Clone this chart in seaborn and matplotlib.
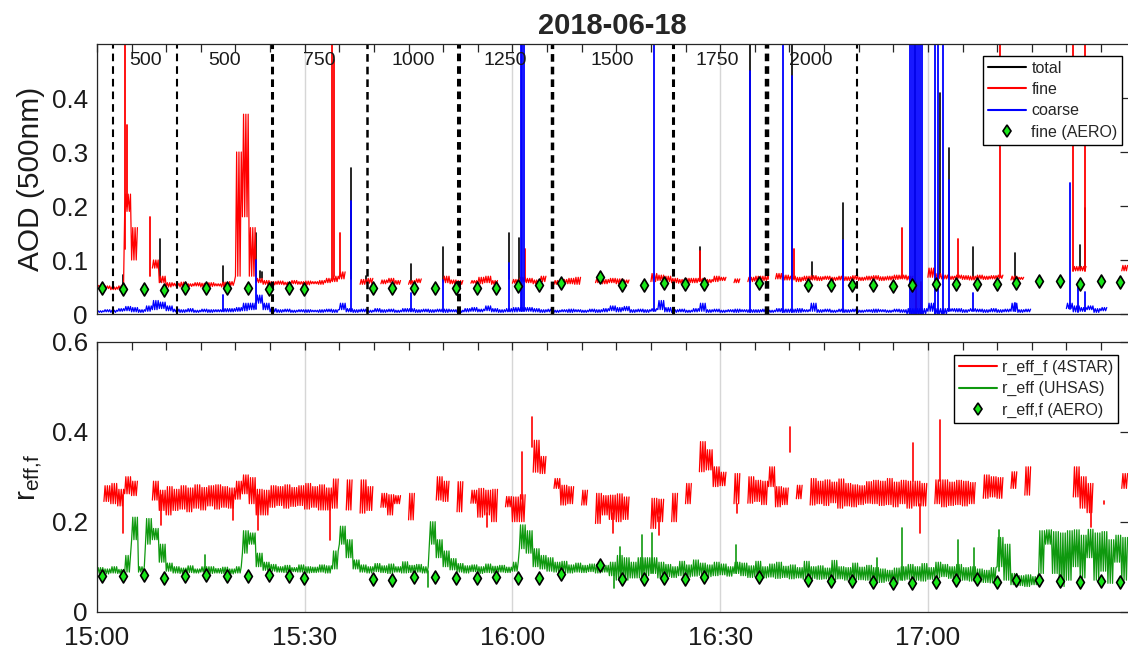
import numpy as np
import pandas as pd
import matplotlib
matplotlib.use("Agg")
import matplotlib.pyplot as plt
import seaborn as sns
from matplotlib.ticker import MultipleLocator, FuncFormatter, FixedLocator
from matplotlib.lines import Line2D

sns.set_theme(style="white")
plt.rcParams['font.family'] = ['Liberation Sans', 'DejaVu Sans']
plt.rcParams['lines.scale_dashes'] = False
plt.rcParams['mathtext.fontset'] = 'custom'
plt.rcParams['mathtext.rm'] = 'Liberation Sans'
plt.rcParams['mathtext.it'] = 'Liberation Sans'

N = None
# ===== data: time = minutes after 15:00 =====
# per-minute low / high envelope of each 1 Hz trace, plus isolated spikes (time, low, high)

# --- AOD fine (4STAR) ---
fine_lo = [
 .050, .047, .045, .046, .190, .100, N,    N,    .085, .058,
 .050, .052, .050, .051, .052, .050, .051, .052, .050, .053,
 .070, .180, .070, .058, .055, .054, .055, .054, .056, .055,
 .054, .056, .055, .058, .060, .065, N,    N,    .055, .057,
 N,    .056, .058, .055, N,    .055, .058, N,    N,    N,
 .058, .056, .055, N,    .057, .056, .058, .055, N,    N,
 .057, .060, .058, .056, .060, N,    .055, .057, .056, .055,
 N,    N,    .058, .056, .058, .056, .057, N,    N,    N,
 .060, .062, .060, .058, .057, .058, .058, .060, .058, .060,
 .062, N,    .058, N,    .060, .061, .062, N,    .065, .063,
 .063, .060, .062, .063, .062, .064, .062, .063, .062, .064,
 .062, .063, .064, .062, .063, .064, .065, .063, N,    N,
 .068, .066, .065, .064, .066, .064, .063, .065, .064, .065,
 .066, N,    .063, .064, N,    N,    N,    N,    N,    N,
 N,    .080, .080, N,    N,    N,    N,    N,    .080,
]
fine_hi = [
 .053, .052, .050, .052, .222, .160, N,    N,    .100, .070,
 .058, .057, .059, .056, .058, .057, .058, .056, .059, .060,
 .300, .370, .160, .066, .062, .060, .061, .059, .062, .060,
 .061, .060, .062, .066, .070, .078, N,    N,    .064, .066,
 N,    .063, .066, .062, N,    .062, .065, N,    N,    N,
 .070, .063, .062, N,    .062, .068, .070, .062, N,    N,
 .064, .068, .066, .063, .070, N,    .062, .064, .066, .068,
 N,    N,    .065, .064, .066, .065, .063, N,    N,    N,
 .075, .072, .070, .066, .064, .066, .066, .066, .064, .070,
 .068, N,    .065, N,    .068, .070, .070, N,    .075, .072,
 .070, .068, .070, .071, .069, .070, .068, .070, .069, .071,
 .068, .070, .071, .069, .070, .072, .072, .070, N,    N,
 .085, .075, .072, .070, .072, .071, .070, .072, .070, .071,
 .072, N,    .070, .068, N,    N,    N,    N,    N,    N,
 N,    .088, .088, N,    N,    N,    N,    N,    .090,
]
fine_spk_t = [4.0, 4.3, 7.65, 34.0, 34.3, 35.1, 61.8, 87.1, 96.9, 100.6, 116.3,
              118.3, 119.0, 124.4, 130.4, 140.9, 142.7]
fine_spk_lo = [.12, .20, .07, .065, .07, .07, .062, .062, .065, .066, .066,
               .000, .000, .068, .068, .08, .08]
fine_spk_hi = [.60, .35, .18, .60, .47, .15, .12, .117, .082, .12, .159,
               .06, .06, .138, .60, .80, .80]

# --- AOD coarse (4STAR) ---
coarse_lo = [
 .003, .004, .003, .005, .006, .004, .003, .005, .008, .010,
 .006, .004, .003, .004, .003, .004, .003, .004, .004, .004,
 .005, .006, .008, .020, .008, .004, .003, .004, .003, .004,
 .003, .004, .003, .004, .003, .008, .004, .003, .004, .003,
 .004, .003, .004, .003, .004, .004, .003, .004, .003, .004,
 .003, .004, .003, .004, .005, .004, .006, .004, .003, .004,
 .004, .005, .005, .004, .003, .004, .003, .004, .003, .004,
 .003, .004, .003, .004, .006, .004, .006, .003, .004, .003,
 .005, .008, .004, .003, .004, .003, .004, .005, .003, .004,
 .003, .004, .003, .004, .003, .003, .004, .003, .004, .003,
 .003, .003, .004, .005, .003, .004, .003, .004, .003, .004,
 .003, .004, .003, .004, .003, .004, .003, .000, .000, .000,
 .005, .000, .000, .005, .004, .003, .005, .004, .003, .004,
 .003, .004, .005, .003, .004, N,    N,    N,    N,    N,
 .010, .004, .005, .008, .003, .006, N,    N,    N,
]
coarse_hi = [
 .006, .008, .007, .010, .014, .012, .008, .015, .025, .022,
 .015, .009, .008, .010, .007, .009, .008, .008, .010, .010,
 .012, .020, .020, .035, .020, .010, .008, .009, .007, .008,
 .008, .007, .008, .009, .008, .020, .010, .008, .009, .007,
 .010, .008, .009, .007, .010, .010, .008, .009, .008, .009,
 .009, .008, .007, .010, .012, .009, .015, .010, .008, .010,
 .012, .012, .012, .010, .008, .009, .007, .008, .009, .008,
 .007, .009, .008, .010, .015, .012, .014, .008, .009, .008,
 .010, .025, .012, .008, .009, .007, .010, .020, .008, .009,
 .007, .008, .009, .008, .008, .008, .009, .007, .010, .009,
 .009, .010, .008, .020, .008, .009, .007, .009, .008, .009,
 .007, .008, .009, .008, .007, .009, .008, .010, .010, .010,
 .020, .010, .010, .010, .010, .008, .010, .009, .008, .010,
 .008, .009, .020, .008, .009, N,    N,    N,    N,    N,
 .020, .015, .012, .015, .010, .012, N,    N,    N,
]
coarse_spk_t = [18.2, 22.9, 36.7, 45.4, 50.0, 59.5, 61.2, 61.4, 61.6, 80.5, 94.3,
                99.1, 100.4, 107.8, 117.4, 117.7, 118.0, 118.3, 118.6, 118.9, 119.2,
                121.0, 121.5, 122.2, 123.0, 126.5, 132.6, 140.5, 141.7, 142.7]
coarse_spk_lo = [.005, .010, .005, .005, .005, .005, .005, .005, .005, .005, .003,
                 .003, .003, .004, .000, .000, .000, .000, .000, .000, .000,
                 .000, .000, .000, .005, .005, .005, .010, .004, .005]
coarse_spk_hi = [.035, .100, .210, .038, .063, .094, .900, .900, .900, .900, .450,
                 .900, .440, .137, .900, .900, .900, .900, .900, .900, .900,
                 .900, .900, .900, .249, .038, .020, .242, .050, .040]

# --- AOD total: visible spikes above the fine-mode trace ---
total_spk_t = [3.7, 9.1, 18.2, 22.9, 23.5, 23.9, 36.7, 38.9, 45.4, 49.9, 59.5, 61.0,
               72.7, 87.1, 94.3, 100.4, 103.2, 107.8, 118.2, 121.8, 123.0, 126.5,
               132.6, 142.0, 142.7]
total_spk_lo = [.052, .060, .058, .070, .066, .066, .065, .062, .060, .062, .065, .064,
                .062, .066, .060, .065, .065, .068, .060, .070, .068, .068,
                .066, .085, .088]
total_spk_hi = [.072, .139, .088, .150, .080, .078, .270, .070, .093, .124, .150, .140,
                .070, .125, .900, .900, .097, .205, .900, .410, .307, .124,
                .113, .128, .196]

# --- r_eff_f (4STAR) ---
r4_lo = [
 N,    .245, .240, .235, .262, .258, N,    N,    .248, .225,
 .215, .225, .228, .222, .230, .226, .235, .228, .232, .230,
 .250, .262, .240, .215, .215, .232, .236, .230, .234, .236,
 .228, .232, .226, .226, .230, N,    .226, N,    .219, .225,
 N,    .232, .215, .240, N,    .204, N,    N,    N,    .248,
 .245, N,    .222, N,    .241, .210, .215, .200, N,    .233,
 .200, .200, N,    .310, .307, N,    .274, .237, .240, N,
 .237, N,    .196, .215, .205, .200, .205, N,    N,    N,
 .185, .200, N,    .200, N,    .240, N,    .311, .315, .278,
 .280, N,    .240, N,    .241, .245, .238, .278, .233, .238,
 N,    .251, N,    .237, .240, .236, .242, .230, .235, .233,
 .238, .241, .240, .236, .238, .233, .240, .230, .235, .235,
 N,    .240, .233, .236, .238, .235, .240, N,    .252, .255,
 .252, N,    .274, N,    .259, N,    N,    N,    N,    N,
 N,    .255, .230, .220, N,    N,    N,    N,    .274,
]
r4_hi = [
 N,    .280, .285, .272, .300, .290, N,    N,    .290, .270,
 .278, .272, .280, .275, .282, .276, .280, .282, .278, .275,
 .290, .304, .298, .272, .270, .280, .278, .282, .276, .280,
 .285, .278, .282, .275, .295, N,    .293, N,    .293, .278,
 N,    .263, .260, .258, N,    .263, N,    N,    N,    .300,
 .290, N,    .289, N,    .270, .274, .270, .272, N,    .256,
 .255, .260, N,    .381, .345, N,    .296, .281, .278, N,
 .270, N,    .263, .258, .259, .262, .255, N,    N,    N,
 .252, .250, N,    .263, N,    .285, N,    .378, .360, .322,
 .310, N,    .307, N,    .300, .292, .290, .322, .278, .275,
 N,    .281, N,    .296, .290, .293, .288, .295, .285, .282,
 .280, .289, .292, .290, .296, .288, .292, .290, .290, .285,
 N,    .293, .293, .288, .292, .290, .287, N,    .304, .300,
 .298, N,    .311, N,    .322, N,    N,    N,    N,    N,
 N,    .322, .300, .285, N,    N,    N,    N,    .307,
]
r4_spk_t = [3.8, 9.3, 19.7, 23.3, 33.7, 56.3, 61.4, 62.8, 74.5, 81.2, 92.5, 100.1,
            117.8, 118.8, 121.8, 143.5, 145.4]
r4_spk_lo = [.174, .193, .204, .181, .159, .189, .250, .367, .174, .170, .219, .356,
             .290, .174, .290, .189, .240]
r4_spk_hi = [.260, .260, .260, .260, .260, .220, .356, .433, .220, .210, .240, .411,
             .374, .240, .426, .250, .246]

# --- r_eff (UHSAS) ---
uh_lo = [
 .085, .084, .086, .085, .088, .160, .088, .150, .160, .110,
 .090, .086, .085, .087, .086, .088, .085, .086, .085, .084,
 .086, .130, .150, .100, .092, .090, .088, .087, .089, .088,
 .086, .087, .088, .086, .095, .150, .120, .095, .088, .086,
 .089, .087, .085, .088, .086, .087, .088, .086, .150, .120,
 .100, .093, .088, .086, .089, .085, .087, .086, .088, .087,
 .090, .140, .130, .100, .095, .090, .088, .087, .086, .088,
 .087, .089, .086, .088, .080, .070, .070, .075, .075, .080,
 .085, .075, .078, .076, .080, .077, .079, .081, .078, .080,
 .082, .079, .085, .080, .076, .078, .075, .077, .074, .076,
 .073, .075, .072, .074, .072, .073, .071, .073, .070, .072,
 .071, .070, .069, .065, .068, .064, .070, .072, .070, .068,
 .072, .075, .078, .074, .072, .070, .068, .066, .065, .064,
 .100, .070, .060, .058, .056, .060, .085, .150, .085, .056,
 .070, .100, .075, .120, .070, .090, .063, .110, .070,
]
uh_hi = [
 .098, .095, .100, .094, .125, .210, .100, .207, .185, .150,
 .108, .100, .097, .102, .095, .100, .100, .096, .099, .095,
 .100, .180, .175, .130, .110, .105, .100, .103, .098, .104,
 .100, .099, .104, .102, .135, .190, .160, .115, .104, .100,
 .107, .102, .106, .100, .111, .103, .105, .100, .200, .160,
 .135, .118, .107, .102, .104, .100, .106, .101, .103, .099,
 .110, .193, .180, .140, .125, .120, .110, .112, .104, .108,
 .103, .106, .105, .103, .110, .125, .120, .110, .120, .120,
 .120, .110, .105, .100, .112, .104, .115, .108, .104, .110,
 .106, .100, .110, .108, .102, .112, .100, .106, .110, .101,
 .104, .098, .112, .100, .102, .097, .114, .100, .098, .108,
 .099, .103, .098, .095, .092, .097, .100, .105, .100, .107,
 .098, .110, .105, .100, .105, .098, .100, .095, .092, .098,
 .165, .150, .085, .080, .082, .078, .180, .182, .178, .175,
 .180, .182, .170, .183, .175, .178, .160, .170, .165,
]
uh_spk_t = [15.6, 47.8, 74.6, 75.5, 78.7, 80.1, 92.3, 112.6, 116.2, 124.4, 126.6, 130.3]
uh_spk_lo = [.090, .056, .052, .090, .080, .085, .085, .070, .070, .075, .070, .090]
uh_spk_hi = [.126, .090, .085, .144, .170, .176, .148, .120, .185, .159, .141, .181]

# --- AERO (in-situ) ---
aero_min = [0.77, 3.80, 6.83, 9.72, 12.71, 15.74, 18.82, 21.86, 24.80, 27.78, 29.94,
            39.91, 42.66, 45.83, 48.78, 51.81, 54.93, 57.68, 60.81, 63.85, 66.98, 72.70,
            75.88, 79.01, 81.95, 84.94, 87.64, 95.62, 102.66, 105.98, 109.01, 112.00,
            115.00, 117.70, 121.10, 124.00, 127.10, 130.00, 132.70, 136.10, 139.10,
            142.00, 145.00, 147.70]
aero_aod = [.049, .047, .047, .045, .048, .048, .048, .049, .047, .048, .047,
            .048, .048, .049, .049, .048, .049, .049, .052, .054, .057, .068,
            .053, .053, .058, .056, .056, .058, .053, .053, .053, .053,
            .052, .053, .056, .056, .056, .056, .058, .062, .062, .056, .061, .059]
aero_reff = [.080, .080, .081, .076, .080, .082, .080, .080, .081, .079, .076,
             .073, .070, .078, .077, .076, .075, .078, .074, .076, .083, .103,
             .073, .073, .076, .072, .077, .078, .070, .069, .069, .066,
             .064, .064, .067, .070, .072, .065, .070, .070, .069, .066, .068, .066]

# --- flight legs ---
leg_min = [2.36, 11.51, 25.23, 38.95, 52.29, 65.77, 83.25, 96.73, 109.8]
alt_min = [7.03, 18.49, 32.07, 45.69, 58.93, 74.35, 89.56, 103.1]
alt_txt = ["500", "500", "750", "1000", "1250", "1500", "1750", "2000"]

# ===== helpers =====
def arr(v):
    return np.array([np.nan if a is None else a for a in v], dtype=float)

def band_frame(lo, hi, k=6):
    """Per-minute envelope drawn as dense up/down strokes inside each minute."""
    lo, hi = arr(lo), arr(hi)
    t = np.arange(len(lo), dtype=float)
    offs = np.arange(k) / k
    x = (t[:, None] + offs[None, :]).ravel()
    y = np.where(np.arange(k)[None, :] % 2 == 0, lo[:, None], hi[:, None]).ravel()
    seg = np.cumsum(np.isnan(y))
    return pd.DataFrame({"x": x, "y": y, "seg": seg}).dropna()

def spike_frame(ts, lo, hi):
    ts = np.asarray(ts, float)
    x = np.repeat(ts, 2)
    y = np.column_stack([lo, hi]).ravel()
    seg = np.repeat(np.arange(len(ts)), 2)
    return pd.DataFrame({"x": x, "y": y, "seg": seg})

def draw(ax, df, color, lw=1.0, z=2):
    sns.lineplot(data=df, x="x", y="y", units="seg", estimator=None, sort=False,
                 color=color, lw=lw, ax=ax, legend=False, zorder=z)

RED, BLUE, GREEN_L, GREEN_M = "#ff0000", "#0000ff", "#0f990f", "#19e619"
AX_C = "#262626"

W, H = 1128, 650
fig = plt.figure(figsize=(W / 100, H / 100), dpi=100)
ax1 = fig.add_axes([97 / W, 1 - 314 / H, 1031 / W, 270 / H])
ax2 = fig.add_axes([97 / W, 1 - 611.7 / H, 1031 / W, 270 / H])

# ===== top panel =====
draw(ax1, spike_frame(total_spk_t, total_spk_lo, total_spk_hi), "black", 1.2, 2.0)
draw(ax1, band_frame(fine_lo, fine_hi), RED, 0.9, 2.1)
draw(ax1, spike_frame(fine_spk_t, fine_spk_lo, fine_spk_hi), RED, 1.3, 2.1)
draw(ax1, band_frame(coarse_lo, coarse_hi), BLUE, 0.9, 2.2)
draw(ax1, spike_frame(coarse_spk_t, coarse_spk_lo, coarse_spk_hi), BLUE, 1.3, 2.2)

lws = [1.5, 1.5, 2.2, 1.8, 2.9, 2.5, 2.2, 3.2, 1.5]
for m, lw in zip(leg_min, lws):
    ax1.axvline(m, color="black", lw=lw, ls=(0, (5.5, 3.6)), zorder=2.5)
for m, s in zip(alt_min, alt_txt):
    ax1.text(m, 0.47, s, ha="center", va="center", fontsize=14, color="#1a1a1a", zorder=3)

sns.scatterplot(x=aero_min, y=aero_aod, ax=ax1, marker="d", s=44, color=GREEN_M,
                edgecolor="black", linewidth=1.2, zorder=4, legend=False)

ax1.set_ylim(0, 0.5)
ax1.yaxis.set_major_locator(FixedLocator([0, 0.1, 0.2, 0.3, 0.4]))
ax1.set_ylabel("AOD (500nm)", fontsize=21.5, labelpad=5)
ax1.set_title("2018-06-18", fontsize=21, fontweight="bold", pad=7.5)

leg_kw = dict(loc="upper right", fontsize=11.5, frameon=True, fancybox=False,
              edgecolor="black", framealpha=1, borderpad=0.3, labelspacing=0.4,
              handlelength=2.4, handletextpad=0.3, borderaxespad=0)
dia = dict(ls="none", marker="d", ms=6.6, mfc=GREEN_M, mec="black", mew=1.2)
h1 = [Line2D([], [], color="black", lw=1.5), Line2D([], [], color=RED, lw=1.5),
      Line2D([], [], color=BLUE, lw=1.5), Line2D([], [], **dia)]
lg1 = ax1.legend(h1, ["total", "fine", "coarse", "fine (AERO)"],
                 bbox_to_anchor=(0.9945, 0.956), **leg_kw)
lg1.get_frame().set_linewidth(1.0)
lg1.set_zorder(10)

# ===== bottom panel =====
draw(ax2, band_frame(r4_lo, r4_hi), RED, 0.9, 2.1)
draw(ax2, spike_frame(r4_spk_t, r4_spk_lo, r4_spk_hi), RED, 1.2, 2.1)
draw(ax2, band_frame(uh_lo, uh_hi), GREEN_L, 0.9, 2.2)
draw(ax2, spike_frame(uh_spk_t, uh_spk_lo, uh_spk_hi), GREEN_L, 1.2, 2.2)
sns.scatterplot(x=aero_min, y=aero_reff, ax=ax2, marker="d", s=44, color=GREEN_M,
                edgecolor="black", linewidth=1.2, zorder=4, legend=False)
ax2.set_ylim(0, 0.6)
ax2.yaxis.set_major_locator(FixedLocator([0, 0.2, 0.4, 0.6]))
ax2.set_ylabel(r"r$_{\mathrm{eff,\!f}}$", fontsize=21.5, labelpad=5)

h2 = [Line2D([], [], color=RED, lw=1.5), Line2D([], [], color=GREEN_L, lw=1.5),
      Line2D([], [], **dia)]
lg2 = ax2.legend(h2, ["r_eff_f (4STAR)", "r_eff (UHSAS)", "r_eff,f (AERO)"],
                 bbox_to_anchor=(0.9906, 0.951), **leg_kw)
lg2.get_frame().set_linewidth(1.0)
lg2.set_zorder(10)

# ===== axis styling =====
def yfmt(v, p):
    return "0" if abs(v) < 1e-9 else f"{v:g}"

def xfmt(v, p):
    m = int(round(v))
    return f"{15 + m // 60}:{m % 60:02d}"

for ax in (ax1, ax2):
    ax.set_xlim(0, 148.9)
    ax.xaxis.set_major_locator(MultipleLocator(30))
    ax.xaxis.set_minor_locator(MultipleLocator(5))
    ax.xaxis.set_major_formatter(FuncFormatter(xfmt))
    ax.yaxis.set_major_formatter(FuncFormatter(yfmt))
    ax.set_xlabel("")
    ax.grid(axis="x", which="major", color="#d6d6d6", lw=1.0)
    ax.grid(axis="y", visible=False)
    ax.set_axisbelow(True)
    ax.tick_params(which="both", direction="in", top=True, right=True, length=6,
                   width=0.9, color=AX_C, labelsize=18.7, labelcolor="#1a1a1a")
    ax.tick_params(axis="x", pad=10)
    ax.tick_params(axis="y", pad=6.5)
    for sp in ("left", "top", "bottom"):
        ax.spines[sp].set_color(AX_C)
        ax.spines[sp].set_linewidth(0.9)
        ax.spines[sp].set_visible(True)
    ax.spines["right"].set_visible(False)
    ax.yaxis.label.set_color("#1a1a1a")

ax1.tick_params(axis="x", labelbottom=False)

fig.savefig("out.png", dpi=100, facecolor="white")
